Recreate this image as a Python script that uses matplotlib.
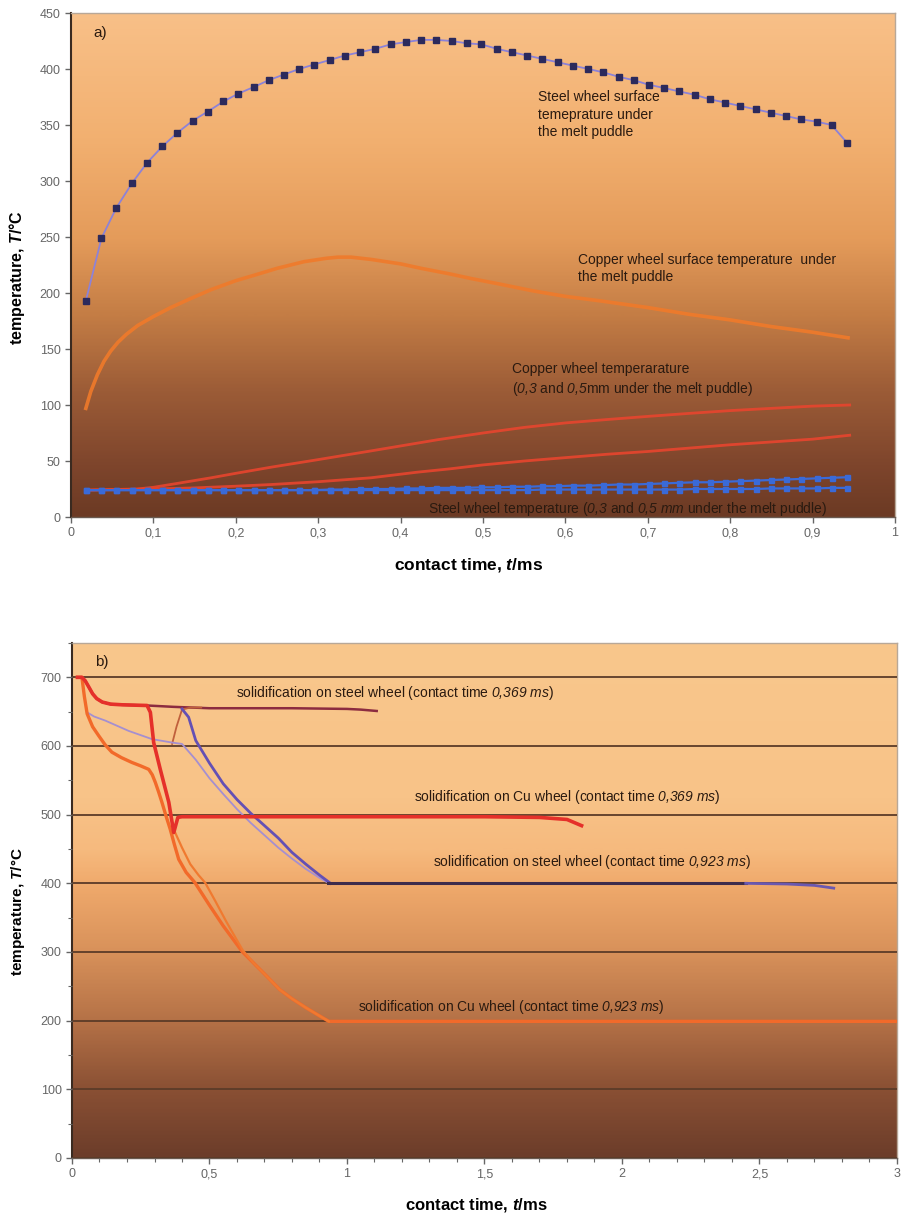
import numpy as np
import matplotlib
matplotlib.use("Agg")
import matplotlib.pyplot as plt
from matplotlib.colors import LinearSegmentedColormap
from matplotlib.ticker import MultipleLocator, FuncFormatter

plt.rcParams["font.family"] = ["Liberation Sans", "DejaVu Sans"]
plt.rcParams["mathtext.fontset"] = "custom"
plt.rcParams["mathtext.rm"] = "Liberation Sans"
plt.rcParams["mathtext.it"] = "Liberation Sans:italic"
plt.rcParams["mathtext.sf"] = "Liberation Sans:italic"
plt.rcParams["mathtext.bf"] = "Liberation Sans:bold:italic"

# ---------------- panel a) : wheel temperatures ----------------
t_steps = [0.018, 0.037, 0.055, 0.074, 0.092, 0.111, 0.129, 0.148, 0.166, 0.185,
           0.203, 0.222, 0.240, 0.258, 0.277, 0.295, 0.314, 0.332, 0.351, 0.369,
           0.388, 0.406, 0.425, 0.443, 0.462, 0.480, 0.498, 0.517, 0.535, 0.554,
           0.572, 0.591, 0.609, 0.628, 0.646, 0.665, 0.683, 0.701, 0.720, 0.738,
           0.757, 0.775, 0.794, 0.812, 0.831, 0.849, 0.868, 0.886, 0.905, 0.923,
           0.942]
steel_surface = [193, 249, 276, 298, 316, 331, 343, 354, 362, 371,
                 378, 384, 390, 395, 400, 404, 408, 412, 415, 418,
                 422, 424, 426, 426, 425, 423, 422, 418, 415, 412,
                 409, 406, 403, 400, 397, 393, 390, 386, 383, 380,
                 377, 373, 370, 367, 364, 361, 358, 355, 353, 350,
                 334]
steel_03mm = [24, 24, 24, 24, 24, 24, 24, 24, 24, 24,
              24, 24, 24, 24, 24, 24, 24.5, 24.5, 25, 25,
              25, 25.5, 25.5, 26, 26, 26, 26.5, 26.5, 27, 27,
              27.5, 27.5, 28, 28, 28.5, 29, 29, 29.5, 30, 30.5,
              31, 31, 31.5, 32, 32.5, 33, 33.5, 34, 34.5, 35,
              35.5]
steel_05mm = [24, 24, 24, 24, 24, 24, 24, 24, 24, 24,
              24, 24, 24, 24, 24, 24, 24, 24, 24, 24,
              24, 24, 24, 24, 24, 24, 24, 24, 24, 24,
              24.5, 24.5, 24.5, 24.5, 24.5, 24.5, 24.5, 24.5, 24.5, 24.5,
              25, 25, 25, 25, 25, 25.5, 25.5, 25.5, 25.5, 26,
              26]

cu_surf_t = [0.018, 0.024, 0.032, 0.04, 0.048, 0.057, 0.067, 0.081, 0.1, 0.121,
             0.145, 0.17, 0.2, 0.223, 0.25, 0.283, 0.31, 0.324, 0.34, 0.364,
             0.4, 0.425, 0.46, 0.485, 0.52, 0.56, 0.6, 0.642, 0.7, 0.75,
             0.8, 0.85, 0.9, 0.943]
cu_surf_T = [97, 112, 127, 139, 148, 156, 163, 171, 179, 187,
             195, 203, 211, 216, 222, 228, 231, 232, 232, 230,
             226, 222, 217, 213, 208, 202, 197, 193, 187, 181,
             176, 170, 165, 160]

cu_03_t = [0.018, 0.08, 0.1, 0.129, 0.17, 0.2, 0.243, 0.298, 0.364, 0.445,
           0.5, 0.55, 0.6, 0.65, 0.703, 0.75, 0.8, 0.85, 0.9, 0.945]
cu_03_T = [24, 25, 26.5, 30, 35, 39, 44.5, 51, 59, 69,
           75, 80, 84, 87, 90, 92.5, 95, 97, 99, 100]
cu_05_t = [0.018, 0.1, 0.15, 0.2, 0.243, 0.3, 0.364, 0.42, 0.46, 0.5,
           0.55, 0.6, 0.65, 0.7, 0.75, 0.8, 0.85, 0.9, 0.945]
cu_05_T = [24, 25, 26, 27.5, 29, 31.5, 35, 40, 43, 46.5,
           50, 53, 56, 58.5, 61.5, 64.5, 67, 69.5, 73]

a_xticks = [0, 0.1, 0.2, 0.3, 0.4, 0.5, 0.6, 0.7, 0.8, 0.9, 1.0]
a_yticks = [0, 50, 100, 150, 200, 250, 300, 350, 400, 450]

# ---------------- panel b) : solidification curves ----------------
steel369_t = [0.02, 0.036, 0.048, 0.061, 0.075, 0.09, 0.11, 0.14, 0.182, 0.273,
              0.37, 0.5, 0.8, 1.0, 1.05, 1.108]
steel369_T = [700, 700, 695, 686, 676, 669, 664, 661, 660, 659,
              657, 655, 655, 654, 653, 651]
steel369b_t = [0.364, 0.38, 0.4, 0.43, 0.47]
steel369b_T = [603, 628, 653, 656, 656]

cu369_t = [0.02, 0.036, 0.048, 0.061, 0.075, 0.09, 0.11, 0.14, 0.182, 0.273,
           0.285, 0.297, 0.321, 0.352, 0.370, 0.385, 0.40, 1.0, 1.5, 1.7,
           1.8, 1.853]
cu369_T = [700, 700, 695, 686, 676, 669, 664, 661, 660, 659,
           649, 605, 566, 518, 474, 496, 497, 497, 497, 496,
           493, 484]
cu369b_t = [0.375, 0.40, 0.43, 0.46, 0.484, 0.52, 0.56, 0.62, 0.66, 0.7,
            0.756, 0.8, 0.85, 0.9, 0.934]
cu369b_T = [474, 452, 428, 412, 401, 375, 345, 303, 284, 268,
            245, 232, 219, 207, 199]

cu923_t = [0.02, 0.036, 0.045, 0.055, 0.075, 0.097, 0.12, 0.145, 0.18, 0.218,
           0.25, 0.279, 0.292, 0.303, 0.315, 0.327, 0.342, 0.357, 0.372, 0.388,
           0.415, 0.447, 0.5, 0.55, 0.62, 0.66, 0.7, 0.756, 0.8, 0.85,
           0.9, 0.934, 1.5, 2.0, 3.0]
cu923_T = [700, 700, 672, 647, 628, 615, 602, 591, 583, 576,
           571, 566, 558, 547, 533, 518, 498, 479, 457, 435,
           416, 401, 368, 338, 300, 284, 268, 245, 232, 219,
           207, 199, 199, 199, 199]

steel923_t = [0.40, 0.424, 0.45, 0.5, 0.55, 0.6, 0.65, 0.7, 0.75, 0.8,
              0.85, 0.9, 0.94]
steel923_T = [654, 642, 608, 575, 545, 522, 502, 484, 466, 445,
              428, 412, 400]
steel923b_t = [0.02, 0.036, 0.045, 0.055, 0.08, 0.121, 0.206, 0.291, 0.364, 0.4,
               0.45, 0.5, 0.55, 0.6, 0.65, 0.7, 0.75, 0.8, 0.85, 0.9,
               0.926]
steel923b_T = [700, 700, 672, 649, 643, 637, 622, 610, 605, 603,
               580, 553, 530, 508, 488, 470, 452, 436, 421, 408,
               402]
steel923_flat_t = [0.93, 1.5, 2.0, 2.45]
steel923_flat_T = [400, 400, 400, 400]
steel923_tail_t = [2.45, 2.6, 2.7, 2.77]
steel923_tail_T = [400, 399, 397, 393]

b_xticks = [0, 0.5, 1.0, 1.5, 2.0, 2.5, 3.0]
b_yticks = [0, 100, 200, 300, 400, 500, 600, 700]

W, H = 904, 1217
fig = plt.figure(figsize=(W / 100, H / 100), dpi=100)
fig.patch.set_facecolor("white")

axA = fig.add_axes([71 / W, 1 - 517 / H, 824 / W, 504 / H])
axB = fig.add_axes([72 / W, 1 - 1158 / H, 825 / W, 515 / H])


def paint_background(ax, stops):
    cmap = LinearSegmentedColormap.from_list("bg", stops)
    grad = np.linspace(0, 1, 400).reshape(-1, 1)
    ax.imshow(grad, cmap=cmap, extent=[0, 1, 0, 1], transform=ax.transAxes,
              aspect="auto", origin="lower", zorder=0, interpolation="bilinear")


comma = FuncFormatter(lambda v, p: f"{v:g}".replace(".", ","))


def style_axes(ax):
    ax.spines["left"].set_color("#3a2a20")
    ax.spines["left"].set_linewidth(1.5)
    ax.spines["bottom"].set_color("#6a5a50")
    ax.spines["bottom"].set_linewidth(1.0)
    for s in ("top", "right"):
        ax.spines[s].set_color("#b8a898")
        ax.spines[s].set_linewidth(1.0)
    ax.tick_params(which="both", direction="out", color="#666666",
                   labelcolor="#666666", labelsize=9)
    ax.tick_params(which="major", length=4, width=1)
    ax.tick_params(which="minor", length=3, width=0.8)
    ax.xaxis.set_major_formatter(comma)


# ---- panel a ----
paint_background(axA, [(0.0, "#6c3a24"), (0.1, "#7e452c"), (0.25, "#9c5c37"),
                       (0.4, "#c47d45"), (0.55, "#e49b5a"), (0.75, "#f2b070"),
                       (1.0, "#f8c088")])
axA.plot(cu_surf_t, cu_surf_T, color="#f07a2a", lw=2.6, alpha=0.9, zorder=3)
axA.plot(cu_03_t, cu_03_T, color="#e8452e", lw=2.0, alpha=0.9, zorder=3)
axA.plot(cu_05_t, cu_05_T, color="#e8452e", lw=2.0, alpha=0.9, zorder=3)
axA.plot(t_steps, steel_03mm, color="#3a6ad8", lw=1.6, marker="s", ms=3.6,
         mec="#3a6ad8", zorder=4)
axA.plot(t_steps, steel_05mm, color="#3a6ad8", lw=1.6, marker="s", ms=3.6,
         mec="#3a6ad8", zorder=4)
axA.plot(t_steps, steel_surface, color="#8c82d8", lw=1.3, zorder=4)
axA.plot(t_steps, steel_surface, ls="none", marker="s", ms=4.2,
         mfc="#2c2a5c", mec="#2c2a5c", zorder=5)

axA.set_xlim(0, 1)
axA.set_ylim(0, 450)
axA.set_xticks(a_xticks)
axA.set_yticks(a_yticks)
style_axes(axA)

txt = dict(color="#2a1a10", fontsize=10)
axA.text(0.027, 432, "a)", va="center", ha="left", fontsize=11, color="#2a1a10")
axA.text(0.567, 381, "Steel wheel surface\ntemeprature under\nthe melt puddle",
         va="top", ha="left", linespacing=1.3, **txt)
axA.text(0.615, 236, "Copper wheel surface temperature  under\nthe melt puddle",
         va="top", ha="left", linespacing=1.3, **txt)
axA.text(0.535, 138,
         "Copper wheel temperarature\n($\\mathsf{0{,}3}$ and $\\mathsf{0{,}5}$mm under the melt puddle)",
         va="top", ha="left", linespacing=1.3, **txt)
axA.text(0.433, 7,
         "Steel wheel temperature ($\\mathsf{0{,}3}$ and $\\mathsf{0{,}5\\ mm}$ under the melt puddle)",
         va="center", ha="left", **txt)

axA.set_xlabel("contact time, $\\mathbf{t}$/ms", fontsize=12.5, fontweight="bold")
axA.set_ylabel("temperature, $\\mathbf{T}$/°C", fontsize=11.5, fontweight="bold")
axA.xaxis.label.set_va("center")
axA.yaxis.label.set_va("center")
axA.xaxis.set_label_coords(0.482, (517 - 565) / 504)
axA.yaxis.set_label_coords((17 - 71) / 824, 0.476)

# ---- panel b ----
paint_background(axB, [(0.0, "#6c3d2a"), (0.133, "#8a5034"), (0.267, "#b57247"),
                       (0.4, "#d8915a"), (0.533, "#f0aa6c"), (0.6, "#f6ba7e"),
                       (0.7, "#f8c388"), (1.0, "#f9c78c")])
axB.set_xlim(0, 3)
axB.set_ylim(0, 750)
axB.set_xticks(b_xticks)
axB.set_yticks(b_yticks)
axB.xaxis.set_minor_locator(MultipleLocator(0.1))
axB.yaxis.set_minor_locator(MultipleLocator(50))
style_axes(axB)
axB.grid(axis="y", which="major", color="#5b3b28", lw=1.3, zorder=1)
axB.set_axisbelow(False)

axB.plot(steel369_t, steel369_T, color="#8c2c40", lw=1.8, zorder=3)
axB.plot(steel369b_t, steel369b_T, color="#c0603c", lw=1.3, zorder=3)
axB.plot(steel923b_t, steel923b_T, color="#a58fd0", lw=1.3, zorder=3)
axB.plot(steel923_t, steel923_T, color="#6450b4", lw=2.0, zorder=4)
axB.plot(steel923_flat_t, steel923_flat_T, color="#3e2c4c", lw=2.2, zorder=4)
axB.plot(steel923_tail_t, steel923_tail_T, color="#6a58b0", lw=2.0, zorder=4)
axB.plot(cu923_t, cu923_T, color="#f26a2a", lw=2.4, zorder=4)
axB.plot(cu369b_t, cu369b_T, color="#f07a30", lw=1.6, zorder=4)
axB.plot(cu369_t, cu369_T, color="#e5302a", lw=2.6, zorder=5)

axB.text(0.084, 722, "b)", va="center", ha="left", fontsize=11, color="#2a1a10")
axB.text(0.596, 677,
         "solidification on steel wheel (contact time $\\mathsf{0{,}369\\ ms}$)",
         va="center", ha="left", **txt)
axB.text(1.244, 525,
         "solidification on Cu wheel (contact time $\\mathsf{0{,}369\\ ms}$)",
         va="center", ha="left", **txt)
axB.text(1.313, 431,
         "solidification on steel wheel (contact time $\\mathsf{0{,}923\\ ms}$)",
         va="center", ha="left", **txt)
axB.text(1.04, 220,
         "solidification on Cu wheel (contact time $\\mathsf{0{,}923\\ ms}$)",
         va="center", ha="left", **txt)

axB.set_xlabel("contact time, $\\mathbf{t}$/ms", fontsize=12, fontweight="bold")
axB.set_ylabel("temperature, $\\mathbf{T}$/°C", fontsize=11, fontweight="bold")
axB.xaxis.label.set_va("center")
axB.yaxis.label.set_va("center")
axB.xaxis.set_label_coords(0.49, (1158 - 1205) / 515)
axB.yaxis.set_label_coords((18 - 72) / 825, 0.478)

fig.savefig("out.png", dpi=100)
